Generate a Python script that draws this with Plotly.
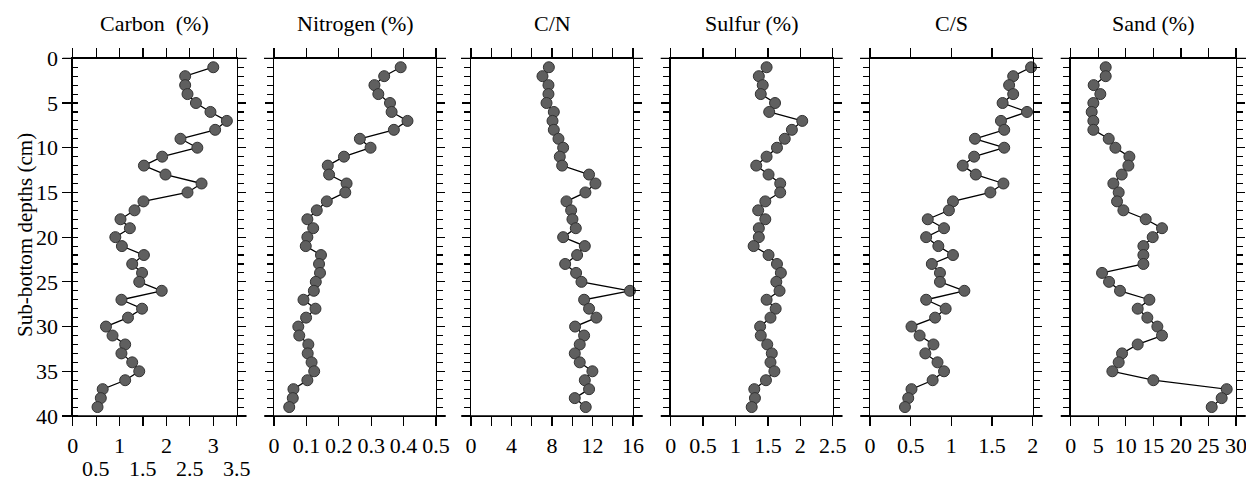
import plotly.graph_objects as go

W, H = 1246, 481

depth = list(range(1, 40))

carbon = [3.0, 2.40, 2.40, 2.45, 2.63, 2.94, 3.29, 3.04, 2.30, 2.66,
          1.91, 1.52, 1.98, 2.75, 2.45, 1.51, 1.32, 1.02, 1.22, 0.91,
          1.05, 1.52, 1.27, 1.48, 1.42, 1.90, 1.04, 1.48, 1.18, 0.71,
          0.85, 1.12, 1.04, 1.27, 1.42, 1.12, 0.64, 0.60, 0.53]
nitrogen = [0.391, 0.340, 0.310, 0.322, 0.358, 0.363, 0.412, 0.370, 0.265, 0.298,
            0.216, 0.166, 0.170, 0.224, 0.220, 0.163, 0.132, 0.103, 0.121, 0.103,
            0.098, 0.145, 0.139, 0.142, 0.129, 0.123, 0.091, 0.128, 0.099, 0.075,
            0.078, 0.106, 0.104, 0.116, 0.124, 0.103, 0.060, 0.058, 0.047]
cn = [7.69, 7.06, 7.65, 7.65, 7.46, 8.18, 8.05, 8.18, 8.64, 9.10,
      8.77, 9.00, 11.66, 12.29, 11.30, 9.43, 9.89, 10.02, 10.35, 9.10,
      11.24, 10.48, 9.30, 10.38, 10.91, 15.70, 11.17, 11.66, 12.38, 10.28,
      11.17, 10.74, 10.25, 10.74, 11.99, 11.24, 11.66, 10.25, 11.33]
sulfur = [1.48, 1.36, 1.42, 1.39, 1.61, 1.52, 2.03, 1.87, 1.76, 1.64,
          1.48, 1.32, 1.51, 1.69, 1.69, 1.46, 1.35, 1.46, 1.36, 1.36,
          1.28, 1.51, 1.64, 1.70, 1.63, 1.68, 1.48, 1.62, 1.54, 1.38,
          1.39, 1.49, 1.56, 1.54, 1.60, 1.47, 1.29, 1.30, 1.25]
cs = [1.98, 1.76, 1.71, 1.76, 1.63, 1.93, 1.61, 1.65, 1.29, 1.65,
      1.28, 1.14, 1.30, 1.64, 1.48, 1.02, 0.97, 0.71, 0.91, 0.69,
      0.84, 1.02, 0.76, 0.86, 0.86, 1.16, 0.69, 0.93, 0.80, 0.51,
      0.61, 0.78, 0.68, 0.83, 0.91, 0.77, 0.51, 0.47, 0.43]
sand = [6.35, 6.35, 4.17, 5.38, 4.11, 3.81, 4.11, 4.11, 6.90, 8.11,
        10.65, 10.47, 9.26, 7.74, 8.71, 8.41, 9.56, 13.61, 16.57, 14.88,
        13.19, 13.19, 13.19, 5.69, 6.96, 8.95, 14.28, 12.16, 13.91, 15.73,
        16.57, 12.16, 9.32, 8.71, 7.56, 15.00, 28.31, 27.40, 25.59]

titles = ["Carbon\u00a0 (%)", "Nitrogen (%)", "C/N", "Sulfur (%)", "C/S", "Sand (%)"]
series = [carbon, nitrogen, cn, sulfur, cs, sand]
xranges = [[0, 3.5], [0, 0.5], [0, 16], [0, 2.5], [0, 2], [0, 30]]
xticks = [
    [0, 0.5, 1, 1.5, 2, 2.5, 3, 3.5],
    [0, 0.1, 0.2, 0.3, 0.4, 0.5],
    [0, 4, 8, 12, 16],
    [0, 0.5, 1, 1.5, 2, 2.5],
    [0, 0.5, 1, 1.5, 2],
    [0, 5, 10, 15, 20, 25, 30],
]
carbon_row1 = [0, 1, 2, 3]
carbon_row2 = [0.5, 1.5, 2.5, 3.5]
ytick_vals = [0, 5, 10, 15, 20, 25, 30, 35, 40]

# panel pixel extents
px_dom = [(72.7, 236.7), (274, 436), (471, 633), (670.7, 832.7), (870, 1032.7), (1070.7, 1236)]
ytop, ybot = 58.3, 416
ydom = [1 - ybot / H, 1 - ytop / H]


def fmt(v):
    return str(int(v)) if float(v).is_integer() else f"{v:g}"


FONT = "Liberation Serif"
fig = go.Figure()
layout = dict(width=W, height=H, autosize=False, margin=dict(l=0, r=0, t=0, b=0, pad=0, autoexpand=False),
              paper_bgcolor="white", plot_bgcolor="white", showlegend=False,
              font=dict(family=FONT, size=22, color="black"))

annotations = []
shapes = []
for i, (vals, title) in enumerate(zip(series, titles)):
    n = i + 1
    xa = "x" if n == 1 else f"x{n}"
    ya = "y" if n == 1 else f"y{n}"
    fig.add_trace(go.Scatter(
        x=vals, y=depth, xaxis=xa, yaxis=ya, mode="lines+markers",
        line=dict(color="black", width=1.3),
        marker=dict(size=11, color="#5f5f5f", line=dict(color="#333333", width=1)),
        cliponaxis=False, hoverinfo="skip"))
    x0, x1 = px_dom[i]
    dom = [x0 / W, x1 / W]
    xkey = "xaxis" if n == 1 else f"xaxis{n}"
    ykey = "yaxis" if n == 1 else f"yaxis{n}"
    tv = xticks[i]
    if n == 1:
        tt = [fmt(v) if v in carbon_row1 else "" for v in tv]
    else:
        tt = [fmt(v) for v in tv]
    xa_d = dict(domain=dom, range=xranges[i], anchor=ya, showline=True, linecolor="black",
                linewidth=1.3, mirror="ticks", ticks="outside", ticklen=9, tickwidth=1.2,
                tickcolor="black", showgrid=False, zeroline=False, automargin=False,
                tickmode="array", tickvals=tv, ticktext=tt, ticklabeloverflow="allow",
                tickfont=dict(family=FONT, size=22, color="black"))
    if n == 3:
        xa_d.update(minor=dict(dtick=2, tick0=0, ticks="outside", ticklen=9, tickwidth=1.2,
                               tickcolor="black"))
    layout[xkey] = xa_d

    ya_d = dict(domain=ydom, range=[40, 0], anchor=xa, showline=True, linecolor="black",
                linewidth=1.3, showgrid=False, zeroline=False, tickmode="array", automargin=False,
                tickvals=ytick_vals, ticks="outside", ticklen=8, tickwidth=1.2, tickcolor="black",
                ticklabeloverflow="allow",
                tickfont=dict(family=FONT, size=22, color="black"))
    if n == 1:
        ya_d.update(mirror=False, ticklen=9, showticklabels=True,
                    minor=dict(dtick=1, ticks="inside", ticklen=5, tickwidth=1.1, tickcolor="black"))
    else:
        ya_d.update(mirror="ticks", showticklabels=False,
                    minor=dict(dtick=1, ticks="outside", ticklen=6, tickwidth=1.1, tickcolor="black"))
    layout[ykey] = ya_d

    annotations.append(dict(text=title, x=(x0 + x1) / 2 / W, y=1 - 23 / H, xref="paper",
                            yref="paper", showarrow=False, xanchor="center", yanchor="middle",
                            font=dict(family=FONT, size=22, color="black")))
    # overshooting frame lines
    for yy in (ydom[0], ydom[1]):
        shapes.append(dict(type="line", xref="paper", yref="paper",
                           x0=(x0 - 10) / W, x1=min(x1 + 10, W) / W, y0=yy, y1=yy,
                           line=dict(color="black", width=1.3)))

# right-side axis for carbon panel (outside ticks)
layout["yaxis7"] = dict(domain=ydom, range=[40, 0], overlaying="y", side="right", anchor="x",
                        showline=True, linecolor="black", linewidth=1.3, showgrid=False,
                        zeroline=False, tickmode="array", tickvals=ytick_vals, ticks="outside",
                        ticklen=8, tickwidth=1.2, tickcolor="black", showticklabels=False,
                        automargin=False,
                        minor=dict(dtick=1, ticks="outside", ticklen=6, tickwidth=1.1,
                                   tickcolor="black"))
fig.add_trace(go.Scatter(x=[None], y=[None], xaxis="x", yaxis="y7", showlegend=False,
                         hoverinfo="skip"))

# second row of carbon tick labels
for v in carbon_row2:
    annotations.append(dict(text=fmt(v), x=v, xref="x", y=1 - 468 / H, yref="paper",
                            showarrow=False, xanchor="center", yanchor="middle",
                            font=dict(family=FONT, size=22, color="black")))

annotations.append(dict(text="Sub-bottom depths (cm)", x=25 / W, y=1 - 235 / H, xref="paper",
                        yref="paper", showarrow=False, textangle=-90, xanchor="center",
                        yanchor="middle", font=dict(family=FONT, size=21, color="black")))

layout["annotations"] = annotations
layout["shapes"] = shapes
fig.update_layout(**layout)
fig.write_html("out.html", config={"displayModeBar": False, "staticPlot": True},
               post_script="document.body.style.margin='0';document.body.style.padding='0';"
                           "document.documentElement.style.overflow='hidden';")
